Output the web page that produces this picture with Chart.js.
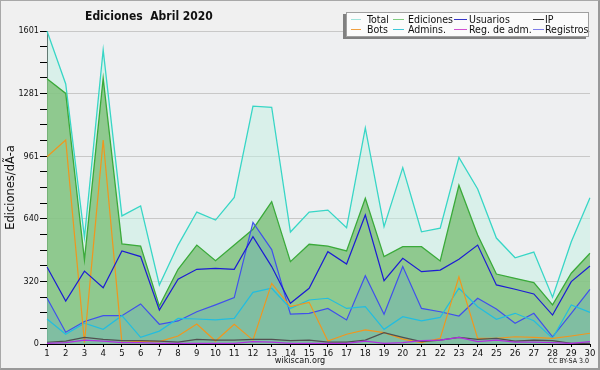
<!DOCTYPE html>
<html>
<head>
<meta charset="utf-8">
<script src="https://cdn.jsdelivr.net/npm/chart.js@4/dist/chart.umd.min.js"></script>
<style>
  html,body{margin:0;padding:0;background:#f0f0f0;}
  #wrap{position:relative;width:600px;height:370px;background:#f0f0f0;overflow:hidden;
        font-family:'DejaVu Sans Condensed','DejaVu Sans',sans-serif;color:#111;}
  #c{position:absolute;left:0;top:0;}
  #frame{position:absolute;left:0;top:0;width:600px;height:370px;box-sizing:border-box;
         border-top:1px solid #a8a8a8;border-left:1px solid #a8a8a8;border-right:2px solid #999;border-bottom:2px solid #999;pointer-events:none;}
  #title{position:absolute;left:85px;top:9px;font-size:12px;font-weight:bold;white-space:pre;}
  #legend{position:absolute;left:346px;top:12px;width:243px;height:25px;box-sizing:border-box;
          background:#fbfbfb;border:1px solid #a0a0a0;box-shadow:-3px 2px 0 #808080;font-size:10.5px;}
  .li{position:absolute;white-space:pre;line-height:10px;color:#111;}
  .mk{position:absolute;height:1px;}
  #site{position:absolute;left:0;width:600px;text-align:center;top:355px;font-size:9px;}
  #cc{position:absolute;right:11px;top:357px;font-size:7px;}
</style>
</head>
<body>
<div id="wrap">
  <canvas id="c" width="600" height="370"></canvas>
  <div id="title">Ediciones  Abril 2020</div>
  <div id="legend"></div>
  <div id="site">wikiscan.org</div>
  <div id="cc">CC BY-SA 3.0</div>
  <div id="frame"></div>
</div>
<script>
// ---- data ----
const days = ['1','2','3','4','5','6','7','8','9','10','11','12','13','14','15','16','17','18','19','20','21','22','23','24','25','26','27','28','29','30'];
const total     = [1601,1330,545,1504,655,706,302,506,675,634,750,1217,1211,573,675,685,595,1105,600,902,574,593,955,793,542,441,470,239,523,748];
const ediciones = [1357,1282,430,1359,512,501,194,382,506,426,506,587,728,421,510,501,476,745,447,498,498,425,812,558,358,336,314,200,362,464];
const usuarios  = [394,220,373,288,476,447,174,331,382,387,382,549,396,208,285,472,409,660,324,438,370,378,433,506,302,280,256,148,319,399];
const ip        = [9,15,34,24,17,17,15,10,24,20,20,24,24,17,20,10,10,20,58,34,12,20,34,24,29,15,20,17,3,3];
const bots      = [958,1043,7,1043,7,15,12,41,102,15,101,20,310,191,213,15,50,72,58,25,7,29,344,29,29,37,34,29,41,55];
const admins    = [128,50,106,75,145,34,66,131,128,123,131,264,285,182,225,234,182,191,75,140,118,136,285,191,126,157,119,29,200,162];
const regAdm    = [3,7,20,15,7,7,3,3,3,3,3,12,10,3,3,3,3,15,3,7,17,20,34,12,20,10,10,7,3,12];
const registros = [235,60,115,145,145,205,101,118,165,200,237,622,483,153,157,182,123,349,152,396,182,165,143,234,179,106,157,37,157,280];
const yMax = 1601;
const yTickLabels = ['0','320','640','961','1281','1601'];
const legendNames = ['Total','Ediciones','Usuarios','IP','Bots','Admins.','Reg. de adm.','Registros'];

const FONT = "'DejaVu Sans Condensed','DejaVu Sans',sans-serif";

// legend (HTML, real text)
const legendCols = [[4,14,20],[46,57,61],[107,120,122],[186,197,198]];
const legendColors = ['#a0e4dc','#80cc80','#3434c8','#303030','#f0a040','#40c8d8','#d050d0','#8080ea'];
const lg = document.getElementById('legend');
legendNames.forEach((n,i)=>{
  const row = i < 4 ? 0 : 1, col = i % 4;
  const [mx, mx2, tx] = legendCols[col];
  const mk = document.createElement('div');
  mk.className='mk'; mk.style.left=mx+'px'; mk.style.width=(mx2-mx)+'px';
  mk.style.top=(row===0?6:16)+'px'; mk.style.background=legendColors[i];
  lg.appendChild(mk);
  const t = document.createElement('div');
  t.className='li'; t.textContent=n; t.style.left=tx+'px'; t.style.top=(row===0?1:11)+'px';
  lg.appendChild(t);
});

const plotBg = {
  id:'plotBg',
  beforeDraw(chart){
    const {ctx, chartArea:a} = chart;
    ctx.save(); ctx.fillStyle='#eeeff1';
    ctx.fillRect(a.left, a.top, a.right-a.left, a.bottom-a.top);
    ctx.restore();
  }
};

function ds(label, data, color, fill, order, width){
  return {label, data, borderColor:color, backgroundColor:fill||'transparent',
          fill: fill ? 'origin' : false, order, borderWidth: width||1.2,
          pointRadius:0, tension:0};
}

new Chart(document.getElementById('c'), {
  type:'line',
  data:{
    labels: days,
    datasets:[
      ds(legendNames[0], total,     '#38d6c6', 'rgba(196,241,228,0.5)', 10, 1.3),
      ds(legendNames[1], ediciones, '#3aaa3a', 'rgba(124,191,120,0.8)', 9, 1.3),
      ds(legendNames[2], usuarios,  '#1c1cd4', null, 2),
      ds(legendNames[3], ip,        '#505050', null, 4),
      ds(legendNames[4], bots,      '#f0961e', null, 5),
      ds(legendNames[5], admins,    '#22bde0', null, 6),
      ds(legendNames[6], regAdm,    '#b030e0', null, 1),
      ds(legendNames[7], registros, '#4050ec', 'rgba(113,179,181,0.5)', 8),
    ]
  },
  options:{
    responsive:false, animation:false, devicePixelRatio:1,
    layout:{padding:{top:31,right:10,bottom:0,left:0}},
    plugins:{legend:{display:false}, tooltip:{enabled:false}, title:{display:false},
             filler:{drawTime:'beforeDatasetsDraw'}},
    scales:{
      x:{
        offset:false,
        grid:{drawOnChartArea:false, tickLength:3, color:'#000'},
        border:{color:'#000', width:1},
        ticks:{autoSkip:false, maxRotation:0, padding:1, color:'#111', font:{family:FONT, size:9.5}},
        afterFit(s){ s.height = 26; }
      },
      y:{
        min:0, max:yMax,
        afterBuildTicks(s){
          const t=[]; for(let i=0;i<=20;i++) t.push({value: yMax*i/20});
          s.ticks = t;
        },
        grid:{
          color:(c)=> (c.index%4===0 ? '#c8c8c8' : 'rgba(0,0,0,0)'),
          tickColor:'#000', tickLength:7, drawTicks:true
        },
        border:{color:'#000', width:1},
        ticks:{autoSkip:false, padding:1, color:'#111', font:{family:FONT, size:9},
               callback:(v,i)=> (i%4===0 ? yTickLabels[i/4] : '')},
        title:{display:true, text:'Ediciones/dÃ-a', color:'#111', padding:{top:4,bottom:0},
               font:{family:"'DejaVu Sans',sans-serif", size:11.5}},
        afterFit(s){ s.width = 47; }
      }
    }
  },
  plugins:[plotBg]
});
</script>
</body>
</html>
